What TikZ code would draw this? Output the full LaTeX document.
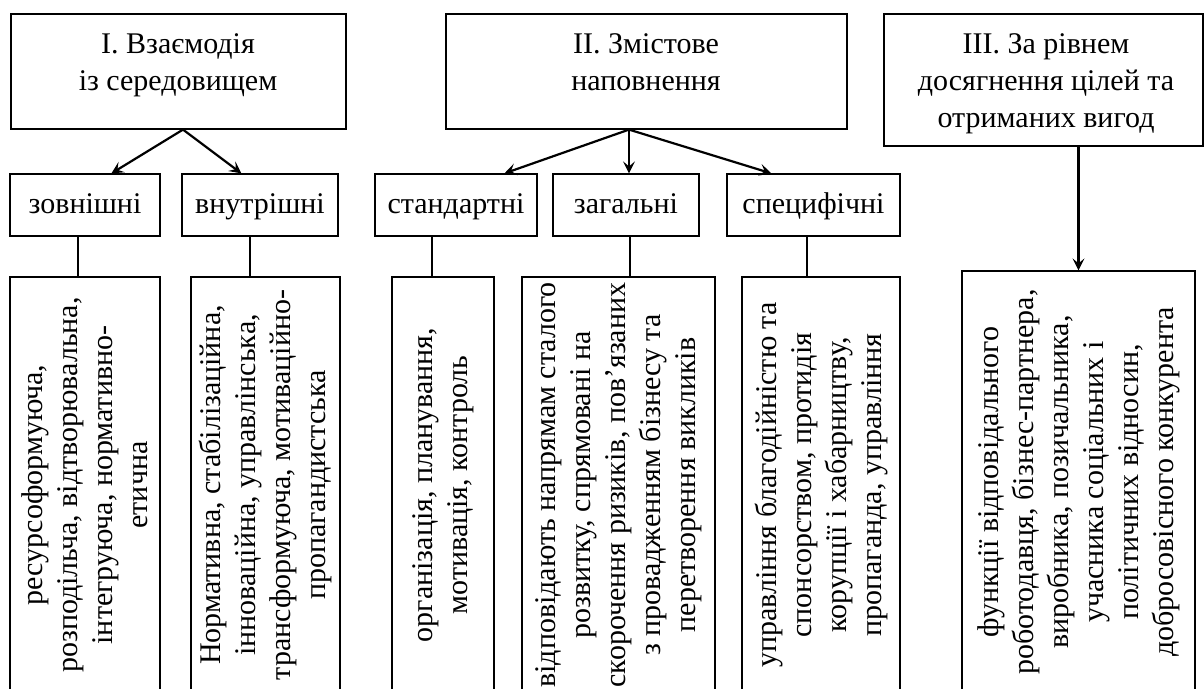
\documentclass[tikz,border=0pt]{standalone}
\usepackage{fontspec}
\setmainfont{Liberation Serif}
\usetikzlibrary{arrows.meta,calc}
\begin{document}
\begin{tikzpicture}[x=1pt,y=-1pt,
  box/.style={draw,line width=1.2pt,inner sep=0pt,align=center,
    font=\fontsize{30}{37}\selectfont},
  midbox/.style={box,minimum height=62pt,text height=22pt,text depth=6pt},
  htext/.style={inner sep=0pt,align=center,anchor=north,
    font=\fontsize{30}{37}\selectfont},
  vtext/.style={rotate=90,inner sep=0pt,align=center,
    font=\fontsize{30}{35}\selectfont},
  arr/.style={line width=2.2pt,-{Stealth[length=12pt,width=12pt,inset=5pt]}},
  link/.style={line width=1.2pt}]
\useasboundingbox (0,0) rectangle (1204,688);
\clip (0,0) rectangle (1204,688);
% headers
\node[box,minimum width=335pt,minimum height=115pt] (h1) at (178.5,71.5) {};
\node[box,minimum width=401pt,minimum height=115pt] (h2) at (646.5,71.5) {};
\node[box,minimum width=319pt,minimum height=132pt] (h3) at (1043.5,80) {};
\node[htext] (t1) at (178,33) {I. Взаємодія\\із середовищем};
\node[htext] (t2) at (646,33) {II. Змістове\\наповнення};
\node[htext] (t3) at (1046,33) {III. За рівнем\\досягнення цілей та\\отриманих вигод};
% middle
\node[midbox,minimum width=150pt] (m1) at (85,205) {зовнішні};
\node[midbox,minimum width=156pt] (m2) at (260,205) {внутрішні};
\node[midbox,minimum width=162pt] (m3) at (456,205) {стандартні};
\node[midbox,minimum width=146pt] (m4) at (626,205) {загальні};
\node[midbox,minimum width=173pt] (m5) at (813.5,205) {специфічні};
% bottom boxes
\node[box,minimum width=150pt,minimum height=416pt] (bA) at (85,485) {};
\node[box,minimum width=149pt,minimum height=416pt] (bB) at (265.5,485) {};
\node[box,minimum width=102pt,minimum height=416pt] (bC) at (443,485) {};
\node[box,minimum width=193pt,minimum height=416pt] (bD) at (618.5,485) {};
\node[box,minimum width=158pt,minimum height=416pt] (bE) at (821,485) {};
\node[box,minimum width=233pt,minimum height=422pt] (bF) at (1078.5,482) {};
% rotated texts
\node[vtext] (tA) at (bA) {ресурсоформуюча,\\розподільча, відтворювальна,\\інтегруюча, нормативно-\\етична};
\node[vtext] (tB) at (bB) {Нормативна, стабілізаційна,\\інноваційна, управлінська,\\трансформуюча, мотиваційно-\\пропагандистська};
\node[vtext] (tC) at (bC) {організація, планування,\\мотивація, контроль};
\node[vtext] (tD) at (bD) {відповідають напрямам сталого\\розвитку, спрямовані на\\скорочення ризиків, пов’язаних\\з провадженням бізнесу та\\перетворення викликів};
\node[vtext] (tE) at (bE) {управління благодійністю та\\спонсорством, протидія\\корупції і хабарництву,\\пропаганда, управління};
\node[vtext] (tF) at (bF) {функції відповідального\\роботодавця, бізнес-партнера,\\виробника, позичальника,\\учасника соціальних і\\політичних відносин,\\добросовісного конкурента};
% arrows
\draw[arr] ([xshift=4.5pt]h1.south) -- ([xshift=102pt]m1.north west);
\draw[arr] ([xshift=4.5pt]h1.south) -- ([xshift=60pt]m2.north west);
\draw[arr] ([xshift=-17.5pt]h2.south) -- ([xshift=130pt]m3.north west);
\draw[arr] ([xshift=-17.5pt]h2.south) -- ([xshift=3pt]m4.north);
\draw[arr] ([xshift=-17.5pt]h2.south) -- ([xshift=45pt]m5.north west);
\draw[arr] (h3.south -| bF.north) -- (bF.north);
% links
\draw[link] ([xshift=-7pt]m1.south) -- ([xshift=-7pt]m1.south |- bA.north);
\draw[link] ([xshift=-10pt]m2.south) -- ([xshift=-10pt]m2.south |- bB.north);
\draw[link] ([xshift=-24pt]m3.south) -- ([xshift=-24pt]m3.south |- bC.north);
\draw[link] ([xshift=4pt]m4.south) -- ([xshift=4pt]m4.south |- bD.north);
\draw[link] ([xshift=-6.5pt]m5.south) -- ([xshift=-6.5pt]m5.south |- bE.north);
\end{tikzpicture}
\end{document}
